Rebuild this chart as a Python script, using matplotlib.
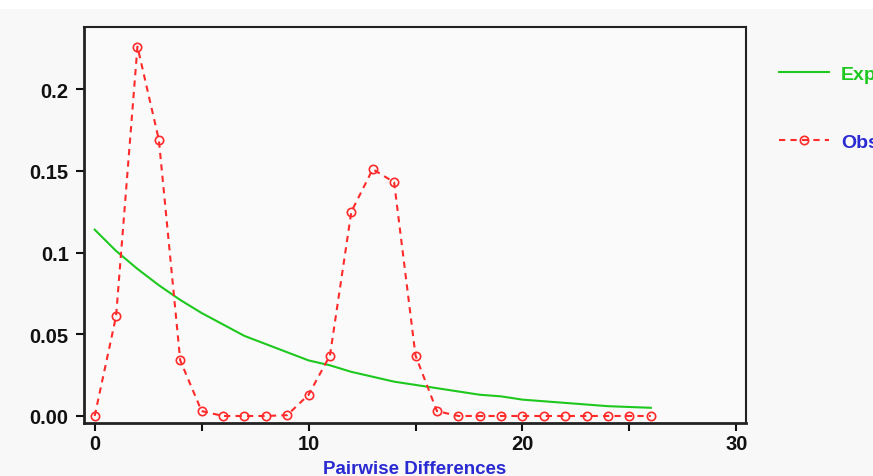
import matplotlib
matplotlib.use("Agg")
import matplotlib.pyplot as plt
from matplotlib.ticker import MultipleLocator

plt.rcParams["font.family"] = ["Liberation Sans", "DejaVu Sans"]
plt.rcParams["font.weight"] = "bold"

# pairwise differences 0..26
diffs = list(range(27))
expected = [0.114, 0.101, 0.090, 0.080, 0.071, 0.063, 0.056, 0.049, 0.044,
            0.039, 0.034, 0.031, 0.027, 0.024, 0.021, 0.019, 0.017, 0.015,
            0.013, 0.012, 0.010, 0.009, 0.008, 0.007, 0.006, 0.0055, 0.005]
observed = [0.0, 0.061, 0.226, 0.169, 0.034, 0.003, 0.0, 0.0, 0.0,
            0.0005, 0.013, 0.037, 0.125, 0.151, 0.143, 0.037, 0.003, 0.0,
            0.0, 0.0, 0.0, 0.0, 0.0, 0.0, 0.0, 0.0, 0.0]

x_ticks = [0, 10, 20, 30]
y_ticks = [0.0, 0.05, 0.1, 0.15, 0.2]
y_tick_labels = ["0.00", "0.05", "0.1", "0.15", "0.2"]

GREEN = "#1ec81e"
RED = "#ff2a2a"
BLUE = "#2a2ad2"

fig = plt.figure(figsize=(8.73, 4.77), dpi=100, facecolor="#f8f8f8")
ax = fig.add_axes([0.0962, 0.1111, 0.7583, 0.8302])
ax.set_facecolor("#fafafa")

ax.plot(diffs, expected, color=GREEN, linewidth=1.5, label="Expected")
ax.plot(diffs, observed, color=RED, linewidth=1.5, linestyle=(0, (3, 2.5)),
        marker="o", markersize=6, markerfacecolor="none", markeredgecolor=RED,
        markeredgewidth=1.2, label="Observed")

ax.set_xlim(-0.5, 30.45)
ax.set_ylim(-0.0043, 0.238)
ax.set_xticks(x_ticks)
ax.xaxis.set_minor_locator(MultipleLocator(5))
ax.set_yticks(y_ticks)
ax.set_yticklabels(y_tick_labels)
ax.tick_params(axis="both", which="both", direction="out", length=6, width=1.5,
               labelsize=14.5, colors="#111111")
ax.tick_params(axis="x", pad=2)
ax.tick_params(axis="y", pad=5)
for side, spine in ax.spines.items():
    spine.set_color("#222222")
    spine.set_linewidth(2.0 if side in ("left", "bottom") else 1.5)

leg = ax.legend(loc="upper left", bbox_to_anchor=(0.872, 0.898),
                bbox_transform=fig.transFigure, frameon=False, fontsize=14,
                handlelength=2.6, handletextpad=0.6, labelspacing=2.6)
for text, color in zip(leg.get_texts(), [GREEN, BLUE]):
    text.set_color(color)
    text.set_fontweight("bold")

fig.text(415 / 873, 1 - 461 / 477, "Pairwise Differences", color=BLUE,
         fontsize=13.5, fontweight="bold", ha="center", va="top")

fig.patches.append(plt.Rectangle((0, 0.98), 1, 0.02, transform=fig.transFigure,
                                 facecolor="white", edgecolor="none", zorder=-1))

fig.savefig("out.png", dpi=100, facecolor=fig.get_facecolor())
